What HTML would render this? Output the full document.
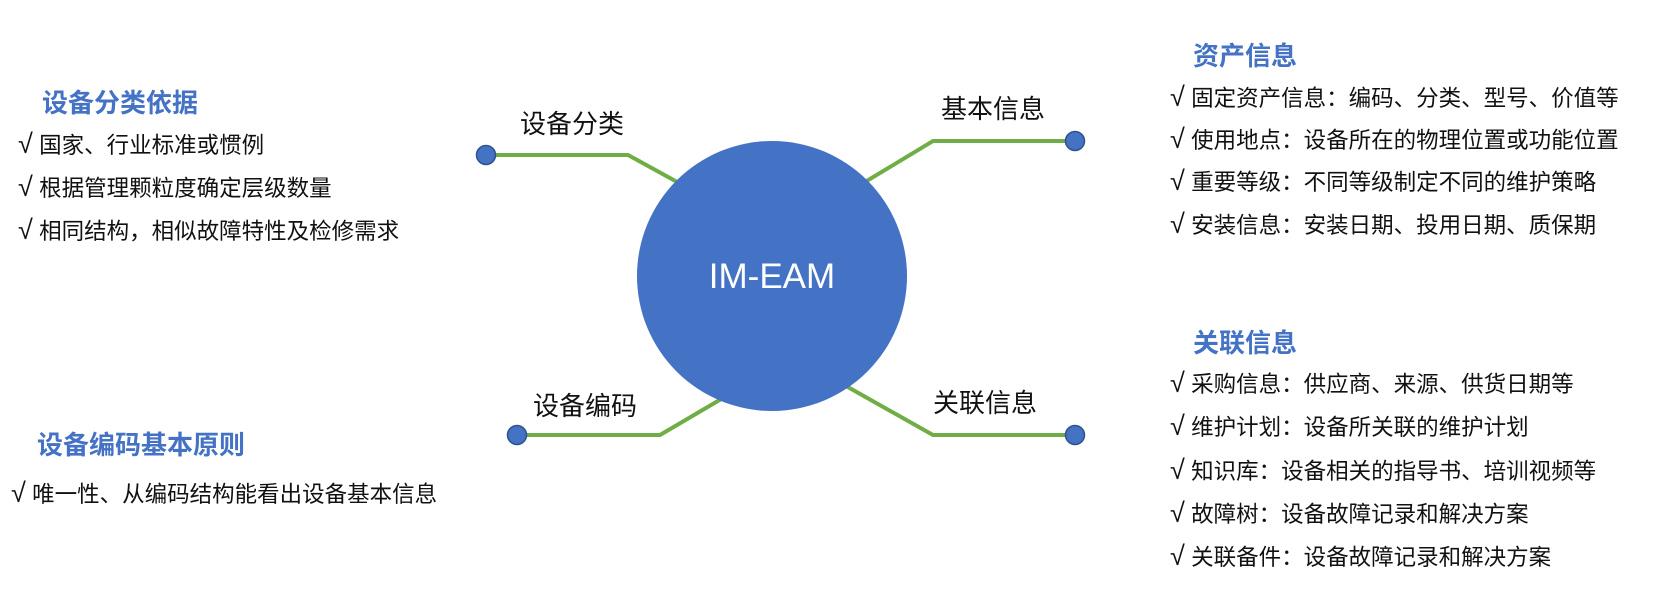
<!DOCTYPE html>
<html><head><meta charset="utf-8">
<style>
html,body{margin:0;padding:0;background:#fff;}
body{width:1663px;height:610px;position:relative;overflow:hidden;font-family:"Liberation Sans","Noto Sans CJK SC",sans-serif;}
.t{position:absolute;white-space:nowrap;color:#111;line-height:1;}
.h{position:absolute;white-space:nowrap;color:#4472C4;font-weight:bold;font-size:26px;line-height:1;}
.i{font-size:22.5px;}
.i span{font-size:27px;line-height:0;}
.b{font-size:26px;}
</style></head><body>
<svg width="1663" height="610" style="position:absolute;left:0;top:0">
<g stroke="#70AD47" stroke-width="4" fill="none">
<polyline points="486,155 628,155 679,183"/>
<polyline points="1075,141 933,141 865,182"/>
<polyline points="517,435 660,435 723,398"/>
<polyline points="1075,435 933,435 846,386"/>
</g>
<circle cx="772" cy="276" r="135" fill="#4472C4"/>
<g fill="#4472C4" stroke="#2F528F" stroke-width="1.5">
<circle cx="486" cy="155" r="9.5"/>
<circle cx="1075" cy="141" r="9.5"/>
<circle cx="517" cy="435" r="9.5"/>
<circle cx="1075" cy="435" r="9.5"/>
</g>
<text x="772" y="288" font-size="35" fill="#fff" text-anchor="middle" font-family="Liberation Sans, sans-serif">IM-EAM</text>
</svg>
<div class="t b" style="left:520px;top:111px">设备分类</div>
<div class="t b" style="left:941px;top:96px">基本信息</div>
<div class="t b" style="left:533px;top:393px">设备编码</div>
<div class="t b" style="left:933px;top:390px">关联信息</div>

<div class="h" style="left:42px;top:90px">设备分类依据</div>
<div class="t i" style="left:18px;top:135px"><span>√</span> 国家、行业标准或惯例</div>
<div class="t i" style="left:18px;top:178px"><span>√</span> 根据管理颗粒度确定层级数量</div>
<div class="t i" style="left:18px;top:221px"><span>√</span> 相同结构，相似故障特性及检修需求</div>

<div class="h" style="left:37px;top:432px">设备编码基本原则</div>
<div class="t i" style="left:11px;top:484px"><span>√</span> 唯一性、从编码结构能看出设备基本信息</div>

<div class="h" style="left:1193px;top:43px">资产信息</div>
<div class="t i" style="left:1170px;top:88px"><span>√</span> 固定资产信息：编码、分类、型号、价值等</div>
<div class="t i" style="left:1170px;top:130px"><span>√</span> 使用地点：设备所在的物理位置或功能位置</div>
<div class="t i" style="left:1170px;top:172px"><span>√</span> 重要等级：不同等级制定不同的维护策略</div>
<div class="t i" style="left:1170px;top:215px"><span>√</span> 安装信息：安装日期、投用日期、质保期</div>

<div class="h" style="left:1193px;top:330px">关联信息</div>
<div class="t i" style="left:1170px;top:374px"><span>√</span> 采购信息：供应商、来源、供货日期等</div>
<div class="t i" style="left:1170px;top:417px"><span>√</span> 维护计划：设备所关联的维护计划</div>
<div class="t i" style="left:1170px;top:461px"><span>√</span> 知识库：设备相关的指导书、培训视频等</div>
<div class="t i" style="left:1170px;top:504px"><span>√</span> 故障树：设备故障记录和解决方案</div>
<div class="t i" style="left:1170px;top:547px"><span>√</span> 关联备件：设备故障记录和解决方案</div>
</body></html>
